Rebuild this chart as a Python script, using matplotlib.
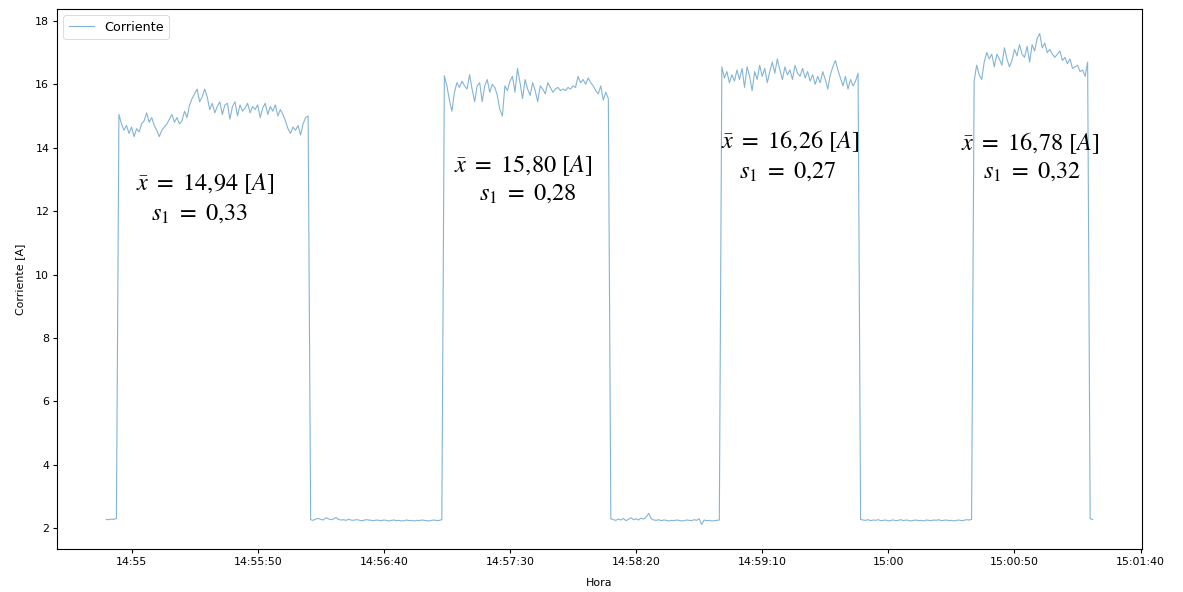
import numpy as np
import matplotlib
matplotlib.use("Agg")
import matplotlib.pyplot as plt
from matplotlib.ticker import MultipleLocator, FuncFormatter

# Sampling: one reading per second, first reading at 14:54:50
start_hms = (14, 54, 50)
period_s = 1.0

# Current readings [A], split by operating state
idle_0 = [2.28, 2.27, 2.29, 2.28, 2.31]
load_1 = [15.05, 14.75, 14.55, 14.70, 14.45, 14.65, 14.35, 14.60, 14.50, 14.75,
          14.85, 15.10, 14.80, 14.95, 14.70, 14.55, 14.35, 14.55, 14.65, 14.75,
          14.90, 15.05, 14.80, 14.95, 14.75, 14.85, 15.15, 14.95, 15.35, 15.55,
          15.70, 15.85, 15.45, 15.60, 15.85, 15.60, 15.20, 15.40, 15.10, 15.30,
          15.45, 15.05, 15.35, 15.40, 14.90, 15.30, 15.45, 15.00, 15.35, 15.15,
          15.25, 15.40, 15.10, 15.30, 15.20, 15.35, 14.95, 15.25, 15.40, 15.05,
          15.30, 15.15, 15.35, 15.00, 15.20, 15.05, 14.85, 14.60, 14.45, 14.65,
          14.55, 14.70, 14.40, 14.75, 14.95, 15.00]
idle_1 = [2.27, 2.25, 2.29, 2.31, 2.28, 2.26, 2.33, 2.30, 2.27, 2.29,
          2.34, 2.28, 2.26, 2.27, 2.25, 2.28, 2.26, 2.25, 2.27, 2.26,
          2.24, 2.25, 2.27, 2.26, 2.25, 2.24, 2.26, 2.25, 2.24, 2.26,
          2.25, 2.23, 2.25, 2.26, 2.24, 2.25, 2.23, 2.24, 2.26, 2.24,
          2.25, 2.23, 2.25, 2.24, 2.26, 2.25, 2.24, 2.23, 2.25, 2.26,
          2.24, 2.25, 2.27]
load_2 = [16.27, 15.95, 15.50, 15.15, 15.75, 16.05, 15.90, 16.10, 15.95, 15.85,
          16.30, 15.85, 15.45, 15.95, 16.05, 15.45, 15.95, 16.15, 15.75, 16.00,
          15.90, 15.65, 15.20, 15.00, 15.95, 15.80, 16.10, 16.25, 15.75, 16.50,
          16.05, 15.55, 16.15, 15.85, 15.65, 16.05, 15.80, 15.45, 15.95, 15.85,
          15.70, 16.05, 15.90, 15.75, 15.85, 15.90, 15.80, 15.85, 15.80, 15.90,
          15.85, 15.95, 15.90, 16.25, 16.05, 16.15, 16.00, 16.20, 16.05, 15.95,
          15.80, 15.70, 15.95, 15.50, 15.75, 15.55]
idle_2 = [2.30, 2.27, 2.25, 2.29, 2.26, 2.31, 2.24, 2.28, 2.33, 2.27,
          2.30, 2.26, 2.32, 2.29, 2.35, 2.47, 2.30, 2.26, 2.25, 2.27,
          2.24, 2.26, 2.25, 2.23, 2.25, 2.24, 2.26, 2.25, 2.23, 2.24,
          2.26, 2.25, 2.24, 2.27, 2.25, 2.30, 2.12, 2.26, 2.24, 2.25,
          2.23, 2.24, 2.25, 2.26]
load_3 = [16.55, 16.20, 16.40, 16.05, 16.30, 16.10, 16.45, 16.15, 16.50, 15.90,
          16.55, 16.25, 15.80, 16.40, 16.15, 16.60, 16.25, 16.50, 16.05, 16.40,
          16.70, 16.35, 16.80, 16.45, 16.15, 16.55, 16.30, 16.45, 16.15, 16.60,
          16.35, 16.25, 16.50, 16.20, 16.40, 16.10, 16.30, 16.00, 16.25, 16.05,
          16.40, 16.15, 15.85, 16.30, 16.55, 16.75, 16.45, 16.20, 15.95, 16.25,
          15.85, 16.15, 15.95, 16.10, 16.35]
idle_3 = [2.28, 2.26, 2.25, 2.27, 2.24, 2.26, 2.25, 2.27, 2.24, 2.25,
          2.26, 2.23, 2.25, 2.26, 2.24, 2.25, 2.27, 2.24, 2.26, 2.25,
          2.23, 2.25, 2.26, 2.24, 2.25, 2.23, 2.26, 2.25, 2.24, 2.26,
          2.25, 2.27, 2.24, 2.25, 2.26, 2.24, 2.25, 2.23, 2.25, 2.26,
          2.24, 2.25, 2.27, 2.26, 2.28]
load_4 = [16.10, 16.60, 16.30, 16.15, 16.70, 17.00, 16.80, 16.95, 16.55, 16.95,
          16.80, 16.60, 17.15, 16.80, 16.55, 16.75, 17.10, 16.90, 17.25, 16.95,
          16.85, 17.20, 16.70, 17.25, 17.05, 17.45, 17.60, 17.15, 17.30, 17.00,
          17.10, 16.95, 16.85, 16.95, 17.05, 16.75, 16.85, 16.65, 16.80, 16.50,
          16.55, 16.60, 16.40, 16.45, 16.25, 16.70]
idle_4 = [2.30, 2.28]

# Statistics of each load interval
means = ["14,94", "15,80", "16,26", "16,78"]
stdevs = ["0,33", "0,28", "0,27", "0,32"]
# Label anchors: time (h, m, s) and current level [A] for each text line
mean_times = [(14, 55, 29), (14, 57, 35), (14, 59, 21), (15, 0, 56)]
mean_levels = [12.87, 13.44, 14.20, 14.13]
std_times = [(14, 55, 27), (14, 57, 37), (14, 59, 20), (15, 0, 57)]
std_levels = [11.95, 12.58, 13.28, 13.25]

current = np.concatenate([idle_0, load_1, idle_1, load_2, idle_2,
                          load_3, idle_3, load_4, idle_4])


def hms_to_s(h, m, s):
    return h * 3600 + m * 60 + s


t0 = hms_to_s(*start_hms)
seconds = t0 + period_s * np.arange(len(current))


def time_fmt(x, pos=None):
    x = int(round(x))
    h, rem = divmod(x, 3600)
    m, s = divmod(rem, 60)
    return f"{h:02d}:{m:02d}" if s == 0 else f"{h:02d}:{m:02d}:{s:02d}"


def decimal_comma(v):
    return v.replace(",", "{,}")


fs = 7.9
plt.rcParams.update({
    "font.size": fs,
    "mathtext.fontset": "stix",
    "xtick.major.size": 2.8,
    "ytick.major.size": 2.8,
    "xtick.major.pad": 2.8,
    "ytick.major.pad": 2.8,
    "axes.linewidth": 0.8,
})

fig = plt.figure(figsize=(11.83, 5.92), dpi=100)
ax = fig.add_axes([57 / 1183, 43 / 592, 1085 / 1183, 540 / 592])

ax.plot(seconds, current, color="#1f77b4", alpha=0.55, lw=0.8, label="Corriente")

ax.xaxis.set_major_locator(MultipleLocator(50))
ax.xaxis.set_major_formatter(FuncFormatter(time_fmt))
ax.set_xlabel("Hora", fontsize=fs, labelpad=8)
ax.set_ylabel("Corriente [A]", fontsize=fs, labelpad=7)
ax.tick_params(labelsize=fs)

leg = ax.legend(loc="upper left", fontsize=9.2, handlelength=2.0)
leg.get_frame().set_linewidth(0.6)

for mu, sd, mt, ml, st, sl in zip(means, stdevs, mean_times, mean_levels,
                                  std_times, std_levels):
    ax.text(hms_to_s(*mt), ml, r"$\bar{x}\ =\ %s\ [A]$" % decimal_comma(mu),
            ha="center", va="center", fontsize=17.5)
    ax.text(hms_to_s(*st), sl, r"$s_1\ =\ %s$" % decimal_comma(sd),
            ha="center", va="center", fontsize=17.5)

fig.savefig("out.png", dpi=100)
